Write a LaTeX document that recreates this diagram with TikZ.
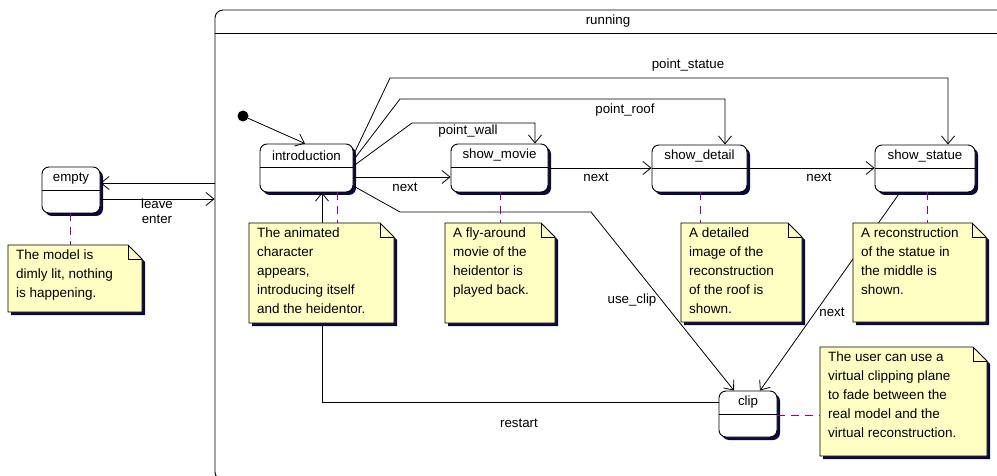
\documentclass[tikz,border=0pt]{standalone}
\usepackage{fontspec}
\setmainfont{Liberation Sans}
\usetikzlibrary{arrows.meta,fit,calc}
\definecolor{notefill}{RGB}{255,255,196}
\definecolor{shadowc}{RGB}{10,10,60}
\definecolor{dashc}{RGB}{150,0,150}
\tikzset{
  arr/.style={draw=black, line width=0.8pt, -{Straight Barb[length=8pt,width=13pt,line width=0.8pt]}},
  notelink/.style={draw=dashc, line width=0.9pt, dash pattern=on 8pt off 6pt},
  lbl/.style={inner sep=0pt, font=\fontsize{13.3}{15}\selectfont},
  notetext/.style={inner sep=0pt, align=left, anchor=north west, font=\fontsize{13.5}{19}\selectfont},
  boxfit/.style={inner sep=0pt, draw=none},
}
% state: name, x1, y1, x2, y2, divider y, label
\newcommand\umlstate[7]{%
  \fill[shadowc, rounded corners=7pt] (#2+3,#3+3) rectangle (#4+3,#5+3);
  \coordinate (#1-a) at (#2,#3);
  \coordinate (#1-b) at (#4,#5);
  \node[boxfit, fit=(#1-a)(#1-b), draw=black, fill=white, line width=0.9pt, rounded corners=7pt] (#1) {};
  \draw[line width=0.8pt] (#2,#6) -- (#4,#6);
  \node[lbl, anchor=center] (#1-l) at ($(#1.north)!0.5!(#1.north |- 0,#6)$) {#7};
}
% note: name, x1, y1, x2, y2, text
\newcommand\umlnote[6]{%
  \fill[shadowc] (#2+3,#3+3) -- (#4+3-14,#3+3) -- (#4+3,#3+3+14) -- (#4+3,#5+3) -- (#2+3,#5+3) -- cycle;
  \coordinate (#1-a) at (#2,#3);
  \coordinate (#1-b) at (#4,#5);
  \node[boxfit, fit=(#1-a)(#1-b)] (#1) {};
  \filldraw[fill=notefill, draw=black, line width=0.8pt] (#2,#3) -- (#4-14,#3) -- (#4,#3+14) -- (#4,#5) -- (#2,#5) -- cycle;
  \draw[line width=0.8pt] (#4-14,#3) -- (#4-14,#3+14) -- (#4,#3+14);
  \node[notetext] (#1-t) at (#2+8,#3+5) {#6};
}
\begin{document}
\begin{tikzpicture}[x=1pt,y=-1pt]
\useasboundingbox (0,0) rectangle (997,476);
\clip (0,0) rectangle (997,476);
\fill[white] (0,0) rectangle (997,476);

% outer composite state
\node[boxfit, fit={(215,10) (1010,480)}, draw=black, line width=0.9pt, rounded corners=8pt] (running) {};
\draw[line width=0.9pt] (running.west |- 0,33) -- (running.east |- 0,33);
\node[lbl] (running-l) at (608,21) {running};

% empty state
\umlstate{empty}{42}{167}{100}{213}{190}{empty}
\draw[arr] (running.west |- 0,183) -- (empty.east |- 0,183);
\draw[arr] (empty.east |- 0,199) -- (running.west |- 0,199);
\node[lbl] (leave) at (157,204) {leave};
\node[lbl] (enter) at (157,219) {enter};

% states inside running
\umlstate{intro}{260}{144}{353}{192}{167}{introduction}
\umlstate{movie}{451}{144}{548}{192}{167}{show\_movie}
\umlstate{detail}{652}{145}{747}{192}{168}{show\_detail}
\umlstate{statue}{875}{145}{975}{192}{168}{show\_statue}
\umlstate{clip}{719}{391}{777}{437}{414}{clip}

% initial pseudo state
\node[circle, fill=black, inner sep=0pt, minimum size=11pt] (init) at (243,116) {};
\draw[arr] (init) -- (intro.north -| 305,0);

% next transitions
\draw[arr] (intro.east |- 0,177) -- (movie.west |- 0,177);
\node[lbl] (next1) at (405,187) {next};
\draw[arr] (movie.east |- 0,168) -- (detail.west |- 0,168);
\node[lbl] (next2) at (596,177) {next};
\draw[arr] (detail.east |- 0,168) -- (statue.west |- 0,168);
\node[lbl] (next3) at (819,177) {next};

% point transitions
\draw[arr] (intro.east |- 0,166) -- (412,123) -- (535,123) -- (movie.north -| 535,0);
\node[lbl] (pwall) at (468,131) {point\_wall};
\draw[arr] (intro.east |- 0,160) -- (400,99) -- (725,99) -- (detail.north -| 725,0);
\node[lbl] (proof) at (625,110) {point\_roof};
\draw[arr] (intro.east |- 0,155) -- (390,78) -- (948,78) -- (statue.north -| 948,0);
\node[lbl] (pstatue) at (688,65) {point\_statue};

% use_clip
\draw[arr] (intro.east |- 0,186) -- (400,212) -- (591,212) -- (clip.north -| 734,0);
\node[lbl] (useclip) at (632,300) {use\_clip};

% statue -> clip
\draw[arr] (statue.south -| 900,0) -- (clip.north -| 760,0);
\node[lbl] (next4) at (832,312) {next};

% restart
\draw[arr] (clip.west |- 0,402) -- (322,402) -- (intro.south -| 322,0);
\node[lbl] (restart) at (519,423) {restart};

% notes (drawn over the connectors)
\umlnote{nempty}{8}{245}{142}{312}{The model is\\dimly lit, nothing\\is happening.}
\umlnote{nintro}{249}{223}{394}{323}{The animated\\character\\appears,\\introducing itself\\and the heidentor.}
\umlnote{nmovie}{445}{223}{555}{323}{A fly-around\\movie of the\\heidentor is\\played back.}
\umlnote{ndetail}{681}{223}{802}{322}{A detailed\\image of the\\reconstruction\\of the roof is\\shown.}
\umlnote{nstatue}{853}{223}{986}{322}{A reconstruction\\of the statue in\\the middle is\\shown.}
\umlnote{nclip}{820}{347}{987}{456}{The user can use a\\virtual clipping plane\\to fade between the\\real model and the\\virtual reconstruction.}

\draw[notelink] (empty.south -| 70,0) -- (nempty.north -| 70,0);
\draw[notelink] (intro.south -| 337,0) -- (nintro.north -| 337,0);
\draw[notelink] (movie.south -| 500,0) -- (nmovie.north -| 500,0);
\draw[notelink] (detail.south -| 700,0) -- (ndetail.north -| 700,0);
\draw[notelink] (statue.south -| 927,0) -- (nstatue.north -| 927,0);
\draw[notelink] (clip.east |- 0,415) -- (nclip.west |- 0,415);
\end{tikzpicture}
\end{document}
